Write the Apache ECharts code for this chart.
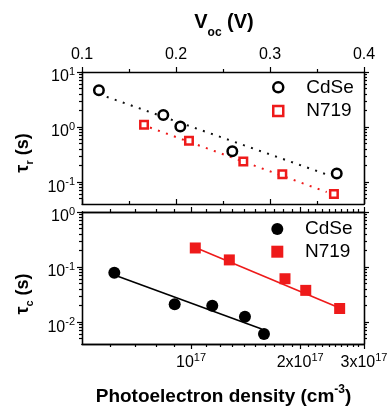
<!DOCTYPE html>
<html><head><meta charset="utf-8">
<script src="https://cdn.jsdelivr.net/npm/echarts@6/dist/echarts.min.js"></script>
<style>html,body{margin:0;padding:0;background:#fff}#c{width:387px;height:407px}</style>
</head><body><div id="c"></div>
<script>
// ---------- data ----------
// Top panel: recombination lifetime tau_r (s) vs open-circuit voltage Voc (V)
const vocCdSe   = [0.118, 0.1865, 0.2046, 0.2599, 0.371];
const tauRCdSe  = [4.68, 1.66, 1.02, 0.362, 0.1435];
const vocN719   = [0.166, 0.2138, 0.2716, 0.3131, 0.368];
const tauRN719  = [1.10, 0.564, 0.236, 0.139, 0.0608];
// dotted fit lines (end points)
const fitVocCdSe  = [0.1263, 0.3603];
const fitTauRCdSe = [3.54, 0.1377];
const fitVocN719  = [0.1723, 0.3603];
const fitTauRN719 = [0.98, 0.066];

// Bottom panel: tau_c (s) vs photoelectron density (cm^-3)
const densCdSe  = [0.614e17, 0.901e17, 1.144e17, 1.408e17, 1.589e17];
const tauCCdSe  = [0.0786, 0.0211, 0.01975, 0.0125, 0.00608];
const densN719  = [1.027e17, 1.275e17, 1.816e17, 2.072e17, 2.570e17];
const tauCN719  = [0.222, 0.1348, 0.0613, 0.0377, 0.01766];
// solid fit lines (end points)
const fitDensCdSe = [0.614e17, 1.566e17];
const fitTauCCdSe = [0.0718, 0.00748];
const fitDensN719 = [1.027e17, 2.570e17];
const fitTauCN719 = [0.2275, 0.01803];

// tick labels
const vocTicks   = [0.1, 0.2, 0.3, 0.4];
const densTicks  = [1e17, 2e17, 3e17];
const tauRTicks  = [0.1, 1, 10];
const tauCTicks  = [0.01, 0.1, 1];
const legendNames = ['CdSe', 'N719'];

// ---------- styling helpers ----------
const FONT = 'Arial, "Liberation Sans", Helvetica, sans-serif';
const RED = '#ee1a1a';
const tickLine = {color: '#000', width: 1.2};
const DENS_MIN = 5e16, DENS_MAX = 3e17;

function logMinors(lo, hi) {
  const out = [];
  for (let e = -4; e <= 2; e++) {
    for (let m = 2; m <= 9; m++) {
      const v = m * Math.pow(10, e);
      if (v >= lo * 1.001 && v <= hi * 0.999) out.push(v);
    }
  }
  return out;
}
const densMinors = [];
for (let k = 6; k <= 29; k++) if (k % 10 !== 0) densMinors.push(k * 1e16);
// keep the end tick just inside the floating-point extent of the log axis
const densTickPos = densTicks.map(v => Math.min(v, DENS_MAX * 0.99999));

const supRich = {
  b: {fontSize: 16, fontFamily: FONT, color: '#000', lineHeight: 16, padding: [5, 0, 5, 0], verticalAlign: 'top'},
  s: {fontSize: 11, fontFamily: FONT, color: '#000', lineHeight: 11, padding: [2.5, 0, 0, 0], verticalAlign: 'top'}
};

function ax(o) {
  const base = {
    splitLine: {show: false}, splitArea: {show: false},
    axisLine: {show: true, onZero: false, lineStyle: {color: '#000', width: 1.3}},
    axisTick: {show: true, inside: false, length: 5, lineStyle: tickLine},
    minorTick: {show: false},
    axisLabel: {show: false},
    axisPointer: {show: false},
    silent: true, z: 5
  };
  return Object.assign(base, o);
}
function minorAx(o, values) {
  return ax(Object.assign({
    axisTick: {show: true, inside: false, length: 3, lineStyle: tickLine, customValues: values}
  }, o));
}

const tauRMinors = logMinors(0.04, 10);
const tauCMinors = logMinors(0.004, 1);
const expLabel = v => '{b|10}{s|' + Math.round(Math.log10(v)) + '}';
const densLabel = v => {
  const m = Math.round(v / 1e17);
  return m === 1 ? '{b|10}{s|17}' : '{b|' + m + 'x10}{s|17}';
};

const yTop = {gridIndex: 0, type: 'log', logBase: 10, min: 0.04, max: 10};
const yBot = {gridIndex: 1, type: 'log', logBase: 10, min: 0.004, max: 1};
const xVoc = {gridIndex: 0, type: 'value', min: 0.1, max: 0.4, interval: 0.1};
const xDens = {gridIndex: 1, type: 'log', logBase: 10, min: DENS_MIN, max: DENS_MAX};

const xAxis = [
  // 0: Voc on top (labels)
  ax(Object.assign({}, xVoc, {
    position: 'top',
    axisTick: {show: true, inside: false, length: 5, lineStyle: tickLine},
    minorTick: {show: true, splitNumber: 2, length: 3, lineStyle: tickLine},
    axisLabel: {show: true, margin: 9, fontSize: 16, lineHeight: 16, fontFamily: FONT, color: '#000',
      customValues: vocTicks, formatter: v => v.toFixed(1)}
  })),
  // 1: Voc mirrored at the bottom of the top panel
  ax(Object.assign({}, xVoc, {
    position: 'bottom',
    axisTick: {show: true, inside: true, length: 5, lineStyle: tickLine},
    minorTick: {show: true, splitNumber: 2, length: 3, lineStyle: tickLine}
  })),
  // 2: density (bottom, labels)
  ax(Object.assign({}, xDens, {
    position: 'bottom',
    axisTick: {show: true, inside: false, length: 5, lineStyle: tickLine, customValues: densTickPos},
    axisLabel: {show: true, margin: 6, fontFamily: FONT, color: '#000', customValues: densTickPos,
      formatter: densLabel, rich: supRich}
  })),
  // 3: density minor ticks (bottom)
  minorAx(Object.assign({}, xDens, {position: 'bottom'}), densMinors),
  // 4: density mirrored at top of bottom panel
  ax(Object.assign({}, xDens, {
    position: 'top',
    axisTick: {show: true, inside: false, length: 5, lineStyle: tickLine, customValues: densTickPos}
  })),
  // 5: its minor ticks
  minorAx(Object.assign({}, xDens, {position: 'top'}), densMinors)
];

const yAxis = [
  // 0: tau_r left (labels)
  ax(Object.assign({}, yTop, {
    position: 'left',
    axisTick: {show: true, inside: false, length: 5, lineStyle: tickLine, customValues: tauRTicks},
    axisLabel: {show: true, margin: 7, fontFamily: FONT, color: '#000', customValues: tauRTicks,
      formatter: expLabel, rich: supRich}
  })),
  minorAx(Object.assign({}, yTop, {position: 'left'}), tauRMinors),
  ax(Object.assign({}, yTop, {
    position: 'right',
    axisTick: {show: true, inside: false, length: 5, lineStyle: tickLine, customValues: tauRTicks}
  })),
  minorAx(Object.assign({}, yTop, {position: 'right'}), tauRMinors),
  // 4: tau_c left (labels)
  ax(Object.assign({}, yBot, {
    position: 'left',
    axisTick: {show: true, inside: false, length: 5, lineStyle: tickLine, customValues: tauCTicks},
    axisLabel: {show: true, margin: 7, fontFamily: FONT, color: '#000', customValues: tauCTicks,
      formatter: expLabel, rich: supRich}
  })),
  minorAx(Object.assign({}, yBot, {position: 'left'}), tauCMinors),
  ax(Object.assign({}, yBot, {
    position: 'right',
    axisTick: {show: true, inside: false, length: 5, lineStyle: tickLine, customValues: tauCTicks}
  })),
  minorAx(Object.assign({}, yBot, {position: 'right'}), tauCMinors)
];

const pairs = (xs, ys) => xs.map((x, i) => [x, ys[i]]);

const series = [
  {name: 'fitR CdSe', type: 'line', xAxisIndex: 0, yAxisIndex: 0, data: pairs(fitVocCdSe, fitTauRCdSe),
   symbol: 'none', silent: true, z: 2, lineStyle: {color: '#111', width: 2, type: [2, 6.5], opacity: 1}},
  {name: 'fitR N719', type: 'line', xAxisIndex: 0, yAxisIndex: 0, data: pairs(fitVocN719, fitTauRN719),
   symbol: 'none', silent: true, z: 2, lineStyle: {color: RED, width: 2, type: [2, 6.5], opacity: 1}},
  {name: legendNames[0], type: 'scatter', xAxisIndex: 0, yAxisIndex: 0, data: pairs(vocCdSe, tauRCdSe),
   symbol: 'circle', symbolSize: 9.5, z: 3, silent: true,
   itemStyle: {color: '#fff', borderColor: '#000', borderWidth: 2.5, opacity: 1}},
  {name: legendNames[1], type: 'scatter', xAxisIndex: 0, yAxisIndex: 0, data: pairs(vocN719, tauRN719),
   symbol: 'rect', symbolSize: 7.5, z: 3, silent: true,
   itemStyle: {color: '#fff', borderColor: RED, borderWidth: 2.5, opacity: 1}},

  {name: 'fitC CdSe', type: 'line', xAxisIndex: 2, yAxisIndex: 4, data: pairs(fitDensCdSe, fitTauCCdSe),
   symbol: 'none', silent: true, z: 2, lineStyle: {color: '#000', width: 1.6, opacity: 1}},
  {name: 'fitC N719', type: 'line', xAxisIndex: 2, yAxisIndex: 4, data: pairs(fitDensN719, fitTauCN719),
   symbol: 'none', silent: true, z: 2, lineStyle: {color: RED, width: 1.6, opacity: 1}},
  {name: legendNames[0] + ' ', type: 'scatter', xAxisIndex: 2, yAxisIndex: 4, data: pairs(densCdSe, tauCCdSe),
   symbol: 'circle', symbolSize: 12, z: 3, silent: true, itemStyle: {color: '#000', opacity: 1}},
  {name: legendNames[1] + ' ', type: 'scatter', xAxisIndex: 2, yAxisIndex: 4, data: pairs(densN719, tauCN719),
   symbol: 'rect', symbolSize: 11, z: 3, silent: true, itemStyle: {color: RED, opacity: 1}}
];

const legendText = {fontSize: 19, fontFamily: FONT, color: '#000', lineHeight: 20};
const legend = [
  {data: [{name: legendNames[0], icon: 'circle'}, {name: legendNames[1], icon: 'rect'}],
   orient: 'vertical', left: 272, top: 77.3, padding: 0, itemWidth: 10, itemHeight: 10, itemGap: 3.7,
   selectedMode: false, itemStyle: {borderWidth: 2.5, opacity: 1},
   textStyle: Object.assign({padding: [0, 0, 0, 18]}, legendText)},
  {data: [{name: legendNames[0] + ' ', icon: 'circle'}, {name: legendNames[1] + ' ', icon: 'rect'}],
   orient: 'vertical', left: 271.3, top: 219, padding: 0, itemWidth: 12, itemHeight: 12, itemGap: 2.7,
   selectedMode: false, itemStyle: {borderWidth: 0, opacity: 1},
   formatter: n => n.trim(),
   textStyle: Object.assign({padding: [0, 0, 0, 16.7]}, legendText)}
];

const titleB = (size) => ({fontSize: size, fontWeight: 'bold', fontFamily: FONT, fill: '#000', lineHeight: size, verticalAlign: 'top'});
const graphic = [
  {type: 'text', x: 224, y: 12.8, silent: true,
   style: {text: '{b|V}{s|oc}{b| (V)}', align: 'center', verticalAlign: 'top',
     rich: {b: titleB(20), s: Object.assign(titleB(12), {padding: [14, 0, 0, 0]})}}},
  {type: 'text', x: 223.5, y: 391, silent: true,
   style: {text: '{b|Photoelectron density (cm}{s|-3}{b|)}', align: 'center', verticalAlign: 'middle',
     rich: {b: Object.assign(titleB(19), {padding: [6, 0, 0, 0]}), s: Object.assign(titleB(12), {padding: [2.5, 0, 0, 0]})}}},
  {type: 'text', x: 23, y: 153, rotation: Math.PI / 2, silent: true,
   style: {text: '{b|τ}{s|r}{b| (s)}', align: 'center', verticalAlign: 'middle',
     rich: {b: titleB(18), s: Object.assign(titleB(11), {padding: [10, 0, 0, 0]})}}},
  {type: 'text', x: 23, y: 294, rotation: Math.PI / 2, silent: true,
   style: {text: '{b|τ}{s|c}{b| (s)}', align: 'center', verticalAlign: 'middle',
     rich: {b: titleB(18), s: Object.assign(titleB(11), {padding: [10, 0, 0, 0]})}}}
];

const chart = echarts.init(document.getElementById('c'), null, {renderer: 'canvas'});
chart.setOption({
  animation: false,
  backgroundColor: '#fff',
  grid: [
    {left: 82, top: 72, width: 282, height: 132, containLabel: false, outerBoundsMode: 'none'},
    {left: 82, top: 212, width: 282, height: 132, containLabel: false, outerBoundsMode: 'none'}
  ],
  xAxis: xAxis,
  yAxis: yAxis,
  legend: legend,
  series: series,
  graphic: graphic
});
</script>
</body></html>
